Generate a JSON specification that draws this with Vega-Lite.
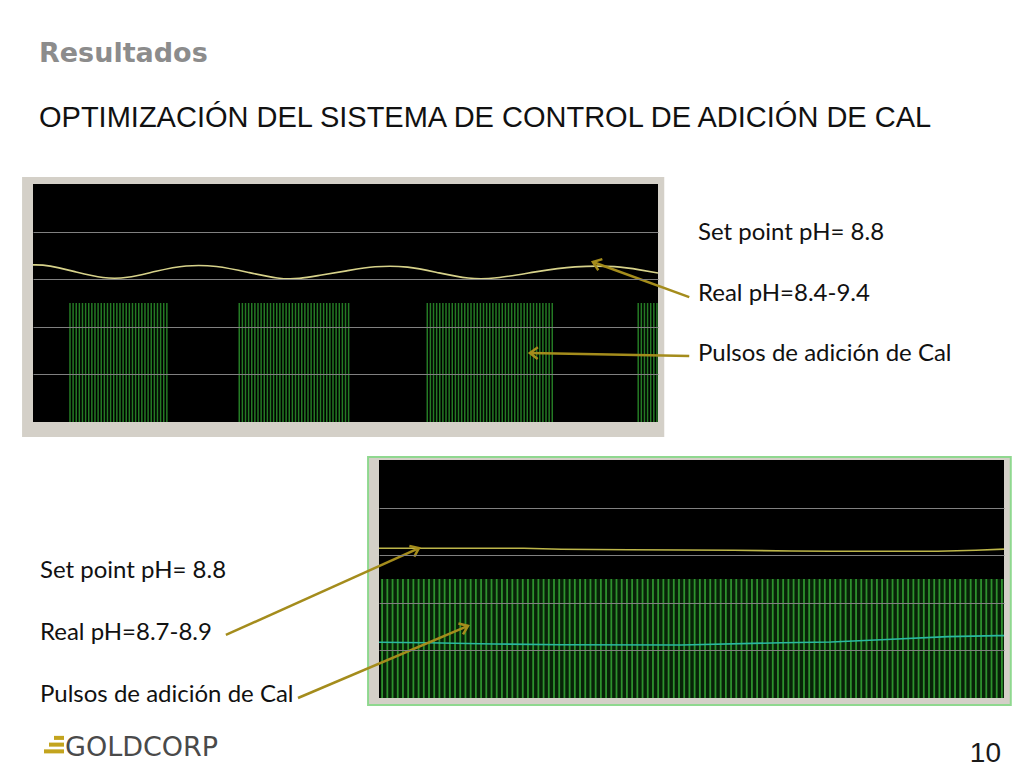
{
  "$schema": "https://vega.github.io/schema/vega-lite/v6.json",
  "background": "white",
  "padding": {"left": 22, "top": 40, "right": 0, "bottom": 0},
  "title": {
    "text": "Resultados",
    "subtitle": "OPTIMIZACIÓN DEL SISTEMA DE CONTROL DE ADICIÓN DE CAL",
    "anchor": "start",
    "frame": "group",
    "dx": 6,
    "offset": 43,
    "font": "DejaVu Sans",
    "fontSize": 27,
    "fontWeight": "bold",
    "color": "#8c8c8c",
    "subtitleFont": "Liberation Sans",
    "subtitleFontSize": 29,
    "subtitleColor": "#111111",
    "subtitlePadding": 36
  },
  "spacing": 18,
  "datasets": {
    "topPH": [
      {"t": 0, "ph": 9.24}, {"t": 2.9, "ph": 9.24}, {"t": 8.3, "ph": 8.82}, {"t": 13.6, "ph": 8.44},
      {"t": 17.9, "ph": 8.44}, {"t": 23.6, "ph": 8.88}, {"t": 29.4, "ph": 9.24}, {"t": 35.1, "ph": 9.21},
      {"t": 41.5, "ph": 8.79}, {"t": 47.2, "ph": 8.41}, {"t": 51.1, "ph": 8.41}, {"t": 55.3, "ph": 8.65},
      {"t": 60.1, "ph": 8.88}, {"t": 65.5, "ph": 9.18}, {"t": 72.0, "ph": 9.18}, {"t": 78.0, "ph": 8.76},
      {"t": 83.7, "ph": 8.41}, {"t": 88.5, "ph": 8.41}, {"t": 96.6, "ph": 8.85}, {"t": 103.9, "ph": 9.18},
      {"t": 112.3, "ph": 9.18}, {"t": 116.7, "ph": 8.94}, {"t": 120, "ph": 8.76}
    ],
    "topPulse": [
      {"t": 7.1}, {"t": 7.7}, {"t": 8.3}, {"t": 8.9}, {"t": 9.5}, {"t": 10.1}, {"t": 10.7}, {"t": 11.3},
      {"t": 11.9}, {"t": 12.5}, {"t": 13.1}, {"t": 13.7}, {"t": 14.3}, {"t": 14.9}, {"t": 15.5}, {"t": 16.1},
      {"t": 16.7}, {"t": 17.3}, {"t": 17.9}, {"t": 18.5}, {"t": 19.1}, {"t": 19.7}, {"t": 20.3}, {"t": 20.9},
      {"t": 21.5}, {"t": 22.1}, {"t": 22.7}, {"t": 23.3}, {"t": 23.9}, {"t": 24.5}, {"t": 25.1}, {"t": 25.7},
      {"t": 39.6}, {"t": 40.2}, {"t": 40.8}, {"t": 41.4}, {"t": 42.0}, {"t": 42.6}, {"t": 43.2}, {"t": 43.8},
      {"t": 44.4}, {"t": 45.0}, {"t": 45.6}, {"t": 46.2}, {"t": 46.8}, {"t": 47.4}, {"t": 48.0}, {"t": 48.6},
      {"t": 49.2}, {"t": 49.8}, {"t": 50.4}, {"t": 51.0}, {"t": 51.6}, {"t": 52.2}, {"t": 52.8}, {"t": 53.4},
      {"t": 54.0}, {"t": 54.6}, {"t": 55.2}, {"t": 55.8}, {"t": 56.4}, {"t": 57.0}, {"t": 57.6}, {"t": 58.2},
      {"t": 58.8}, {"t": 59.4}, {"t": 60.0}, {"t": 60.6},
      {"t": 75.7}, {"t": 76.3}, {"t": 76.9}, {"t": 77.5}, {"t": 78.1}, {"t": 78.7}, {"t": 79.3}, {"t": 79.9},
      {"t": 80.5}, {"t": 81.1}, {"t": 81.7}, {"t": 82.3}, {"t": 82.9}, {"t": 83.5}, {"t": 84.1}, {"t": 84.7},
      {"t": 85.3}, {"t": 85.9}, {"t": 86.5}, {"t": 87.1}, {"t": 87.7}, {"t": 88.3}, {"t": 88.9}, {"t": 89.5},
      {"t": 90.1}, {"t": 90.7}, {"t": 91.3}, {"t": 91.9}, {"t": 92.5}, {"t": 93.1}, {"t": 93.7}, {"t": 94.3},
      {"t": 94.9}, {"t": 95.5}, {"t": 96.1}, {"t": 96.7}, {"t": 97.3}, {"t": 97.9}, {"t": 98.5}, {"t": 99.1},
      {"t": 99.7},
      {"t": 116.2}, {"t": 116.8}, {"t": 117.4}, {"t": 118.0}, {"t": 118.6}, {"t": 119.2}, {"t": 119.8}
    ],
    "botPH": [
      {"t": 0, "ph": 8.81}, {"t": 27.8, "ph": 8.81}, {"t": 35.0, "ph": 8.75}, {"t": 48.0, "ph": 8.72},
      {"t": 68.2, "ph": 8.69}, {"t": 79.2, "ph": 8.65}, {"t": 86.8, "ph": 8.63}, {"t": 107.3, "ph": 8.63},
      {"t": 114.6, "ph": 8.69}, {"t": 120, "ph": 8.76}
    ],
    "botFlow": [
      {"t": 0, "v": 23.4}, {"t": 9.4, "v": 23.2}, {"t": 22.1, "v": 22.7}, {"t": 34.9, "v": 22.4},
      {"t": 58.0, "v": 22.3}, {"t": 77.2, "v": 23.2}, {"t": 86.8, "v": 23.5}, {"t": 96.4, "v": 24.5},
      {"t": 109.2, "v": 25.8}, {"t": 118.8, "v": 26.2}, {"t": 120, "v": 26.2}
    ],
    "botPulse": [
      {"t": 0.6}, {"t": 1.6}, {"t": 2.6}, {"t": 3.6}, {"t": 4.6}, {"t": 5.6}, {"t": 6.6}, {"t": 7.6}, {"t": 8.6}, {"t": 9.6},
      {"t": 10.6}, {"t": 11.6}, {"t": 12.6}, {"t": 13.6}, {"t": 14.6}, {"t": 15.6}, {"t": 16.6}, {"t": 17.6}, {"t": 18.6}, {"t": 19.6},
      {"t": 20.6}, {"t": 21.6}, {"t": 22.6}, {"t": 23.6}, {"t": 24.6}, {"t": 25.6}, {"t": 26.6}, {"t": 27.6}, {"t": 28.6}, {"t": 29.6},
      {"t": 30.6}, {"t": 31.6}, {"t": 32.6}, {"t": 33.6}, {"t": 34.6}, {"t": 35.6}, {"t": 36.6}, {"t": 37.6}, {"t": 38.6}, {"t": 39.6},
      {"t": 40.6}, {"t": 41.6}, {"t": 42.6}, {"t": 43.6}, {"t": 44.6}, {"t": 45.6}, {"t": 46.6}, {"t": 47.6}, {"t": 48.6}, {"t": 49.6},
      {"t": 50.6}, {"t": 51.6}, {"t": 52.6}, {"t": 53.6}, {"t": 54.6}, {"t": 55.6}, {"t": 56.6}, {"t": 57.6}, {"t": 58.6}, {"t": 59.6},
      {"t": 60.6}, {"t": 61.6}, {"t": 62.6}, {"t": 63.6}, {"t": 64.6}, {"t": 65.6}, {"t": 66.6}, {"t": 67.6}, {"t": 68.6}, {"t": 69.6},
      {"t": 70.6}, {"t": 71.6}, {"t": 72.6}, {"t": 73.6}, {"t": 74.6}, {"t": 75.6}, {"t": 76.6}, {"t": 77.6}, {"t": 78.6}, {"t": 79.6},
      {"t": 80.6}, {"t": 81.6}, {"t": 82.6}, {"t": 83.6}, {"t": 84.6}, {"t": 85.6}, {"t": 86.6}, {"t": 87.6}, {"t": 88.6}, {"t": 89.6},
      {"t": 90.6}, {"t": 91.6}, {"t": 92.6}, {"t": 93.6}, {"t": 94.6}, {"t": 95.6}, {"t": 96.6}, {"t": 97.6}, {"t": 98.6}, {"t": 99.6},
      {"t": 100.6}, {"t": 101.6}, {"t": 102.6}, {"t": 103.6}, {"t": 104.6}, {"t": 105.6}, {"t": 106.6}, {"t": 107.6}, {"t": 108.6}, {"t": 109.6},
      {"t": 110.6}, {"t": 111.6}, {"t": 112.6}, {"t": 113.6}, {"t": 114.6}, {"t": 115.6}, {"t": 116.6}, {"t": 117.6}, {"t": 118.6}, {"t": 119.6}
    ],
    "rightNotes": [
      {"row": 1, "label": "Set point pH= 8.8"},
      {"row": 2, "label": "Real pH=8.4-9.4"},
      {"row": 3, "label": "Pulsos de adición de Cal"}
    ],
    "leftNotes": [
      {"row": 1, "label": "Set point pH= 8.8"},
      {"row": 2, "label": "Real pH=8.7-8.9"},
      {"row": 3, "label": "Pulsos de adición de Cal"}
    ],
    "logoBars": [
      {"bar": 1, "len": 1},
      {"bar": 2, "len": 1.5},
      {"bar": 3, "len": 2}
    ]
  },
  "vconcat": [
    {
      "bounds": "flush",
      "spacing": 40,
      "hconcat": [
        {
          "width": 625,
          "height": 238,
          "resolve": {"scale": {"y": "independent"}},
          "layer": [
            {
              "data": {"values": [{}]},
              "mark": {"type": "rect", "color": "#d4d0c8"},
              "encoding": {
                "x": {"datum": -2.1, "type": "quantitative", "scale": {"domain": [0, 120], "nice": false, "zero": false}, "axis": null},
                "x2": {"datum": 121.2},
                "y": {"datum": -0.88, "type": "quantitative", "scale": {"domain": [0, 14], "nice": false, "zero": false}, "axis": null},
                "y2": {"datum": 14.41}
              }
            },
            {
              "data": {"values": [{}]},
              "mark": {"type": "rect", "color": "#000000"},
              "encoding": {
                "x": {
                  "datum": 0, "type": "quantitative",
                  "scale": {"domain": [0, 120], "nice": false, "zero": false},
                  "axis": {
                    "values": [0, 24, 48, 72, 96, 120],
                    "grid": true, "gridColor": "#808080", "gridWidth": 1,
                    "gridOpacity": {"condition": {"test": "datum.value == 0 || datum.value == 120", "value": 0}, "value": 1},
                    "domain": false, "ticks": false, "title": null,
                    "labelFont": "Liberation Sans", "labelFontSize": 5.5, "labelColor": "#222222",
                    "labelPadding": 1, "labelFlush": true, "labelOverlap": false,
                    "labelExpr": "timeFormat(time(datetime(2011,0,1,17,5,36)) + datum.value*60000, (datum.value == 0 || datum.value == 120) ? '%-I:%M:%S %p' : '%-I:%M:%S')",
                    "zindex": 1
                  }
                },
                "x2": {"datum": 120},
                "y": {
                  "datum": 0, "type": "quantitative",
                  "scale": {"domain": [0, 14], "nice": false, "zero": false},
                  "axis": {
                    "values": [2.8, 5.6, 8.4, 11.2],
                    "grid": true, "gridColor": "#808080", "gridWidth": 1,
                    "labels": false, "ticks": false, "domain": false, "title": null, "zindex": 1
                  }
                },
                "y2": {"datum": 14}
              }
            },
            {
              "data": {"name": "topPulse"},
              "mark": {"type": "rule", "color": "#247a24", "strokeWidth": 1.5},
              "encoding": {
                "x": {"field": "t", "type": "quantitative", "scale": {"domain": [0, 120], "nice": false, "zero": false}, "axis": null},
                "y": {"datum": 0, "type": "quantitative", "scale": {"domain": [0, 2], "nice": false, "zero": false}, "axis": null},
                "y2": {"datum": 1}
              }
            },
            {
              "data": {"name": "topPH"},
              "mark": {"type": "line", "color": "#d7d28a", "strokeWidth": 1.6, "interpolate": "basis"},
              "encoding": {
                "x": {"field": "t", "type": "quantitative", "scale": {"domain": [0, 120], "nice": false, "zero": false}, "axis": null},
                "y": {"field": "ph", "type": "quantitative", "scale": {"domain": [0, 14], "nice": false, "zero": false}, "axis": null}
              }
            },
            {
              "data": {"values": [{}]},
              "mark": {"type": "rule", "color": "#a48c1c", "strokeWidth": 2.5},
              "encoding": {
                "x": {"datum": 126.0, "type": "quantitative", "scale": {"domain": [0, 120], "nice": false, "zero": false}, "axis": null},
                "x2": {"datum": 107.5},
                "y": {"datum": 7.35, "type": "quantitative", "scale": {"domain": [0, 14], "nice": false, "zero": false}, "axis": null},
                "y2": {"datum": 9.41}
              }
            },
            {
              "data": {"values": [{}]},
              "mark": {"type": "point", "shape": "M 1 -0.75 L 0 0 L 1 0.75", "filled": false, "stroke": "#a48c1c", "strokeWidth": 2.5, "size": 250, "angle": 20, "opacity": 1},
              "encoding": {
                "x": {"datum": 107.5, "type": "quantitative", "scale": {"domain": [0, 120], "nice": false, "zero": false}, "axis": null},
                "y": {"datum": 9.41, "type": "quantitative", "scale": {"domain": [0, 14], "nice": false, "zero": false}, "axis": null}
              }
            },
            {
              "data": {"values": [{}]},
              "mark": {"type": "rule", "color": "#a48c1c", "strokeWidth": 2.5},
              "encoding": {
                "x": {"datum": 126.0, "type": "quantitative", "scale": {"domain": [0, 120], "nice": false, "zero": false}, "axis": null},
                "x2": {"datum": 95.4},
                "y": {"datum": 3.88, "type": "quantitative", "scale": {"domain": [0, 14], "nice": false, "zero": false}, "axis": null},
                "y2": {"datum": 4.06}
              }
            },
            {
              "data": {"values": [{}]},
              "mark": {"type": "point", "shape": "M 1 -0.75 L 0 0 L 1 0.75", "filled": false, "stroke": "#a48c1c", "strokeWidth": 2.5, "size": 250, "angle": 1, "opacity": 1},
              "encoding": {
                "x": {"datum": 95.4, "type": "quantitative", "scale": {"domain": [0, 120], "nice": false, "zero": false}, "axis": null},
                "y": {"datum": 4.06, "type": "quantitative", "scale": {"domain": [0, 14], "nice": false, "zero": false}, "axis": null}
              }
            }
          ]
        },
        {
          "width": 300,
          "height": 238,
          "data": {"name": "rightNotes"},
          "mark": {"type": "text", "align": "left", "baseline": "alphabetic", "font": "Lato", "fontSize": 24, "color": "#111111"},
          "encoding": {
            "x": {"datum": 0, "type": "quantitative", "scale": {"domain": [0, 1], "nice": false}, "axis": null},
            "y": {"field": "row", "type": "quantitative", "scale": {"domain": [0.074, 4.008], "reverse": true, "nice": false, "zero": false}, "axis": null},
            "text": {"field": "label"}
          }
        }
      ]
    },
    {
      "bounds": "flush",
      "spacing": 40,
      "hconcat": [
        {
          "width": 306,
          "height": 238,
          "data": {"name": "leftNotes"},
          "mark": {"type": "text", "align": "left", "baseline": "alphabetic", "font": "Lato", "fontSize": 24, "color": "#111111", "dx": 7},
          "encoding": {
            "x": {"datum": 0, "type": "quantitative", "scale": {"domain": [0, 1], "nice": false}, "axis": null},
            "y": {"field": "row", "type": "quantitative", "scale": {"domain": [-0.903, 2.936], "reverse": true, "nice": false, "zero": false}, "axis": null},
            "text": {"field": "label"}
          }
        },
        {
          "width": 625,
          "height": 238,
          "resolve": {"scale": {"y": "independent"}},
          "layer": [
            {
              "data": {"values": [{}]},
              "mark": {"type": "rect", "color": "#d4d0c8", "stroke": "#8fd88f", "strokeWidth": 2},
              "encoding": {
                "x": {"datum": -2.1, "type": "quantitative", "scale": {"domain": [0, 120], "nice": false, "zero": false}, "axis": null},
                "x2": {"datum": 121.3},
                "y": {"datum": -0.41, "type": "quantitative", "scale": {"domain": [0, 14], "nice": false, "zero": false}, "axis": null},
                "y2": {"datum": 14.18}
              }
            },
            {
              "data": {"values": [{}]},
              "mark": {"type": "rect", "color": "#000000"},
              "encoding": {
                "x": {
                  "datum": 0, "type": "quantitative",
                  "scale": {"domain": [0, 120], "nice": false, "zero": false},
                  "axis": {
                    "values": [0, 24, 48, 72, 96, 120],
                    "grid": true, "gridColor": "#808080", "gridWidth": 1,
                    "gridOpacity": {"condition": {"test": "datum.value == 0 || datum.value == 120", "value": 0}, "value": 1},
                    "domain": false, "ticks": false, "title": null,
                    "labelFont": "Liberation Sans", "labelFontSize": 5.5, "labelColor": "#222222",
                    "labelPadding": 1, "labelFlush": true, "labelOverlap": false,
                    "labelExpr": "timeFormat(time(datetime(2011,0,1,19,9,36)) + datum.value*60000, (datum.value == 0 || datum.value == 120) ? '%-I:%M:%S %p' : '%-I:%M:%S')",
                    "zindex": 1
                  }
                },
                "x2": {"datum": 120},
                "y": {
                  "datum": 0, "type": "quantitative",
                  "scale": {"domain": [0, 14], "nice": false, "zero": false},
                  "axis": {
                    "values": [2.8, 5.6, 8.4, 11.2],
                    "grid": true, "gridColor": "#808080", "gridWidth": 1,
                    "labels": false, "ticks": false, "domain": false, "title": null, "zindex": 1
                  }
                },
                "y2": {"datum": 14}
              }
            },
            {
              "data": {"values": [{}]},
              "mark": {"type": "rect", "color": "#082208"},
              "encoding": {
                "x": {"datum": 0.3, "type": "quantitative", "scale": {"domain": [0, 120], "nice": false, "zero": false}, "axis": null},
                "x2": {"datum": 120},
                "y": {"datum": 0, "type": "quantitative", "scale": {"domain": [0, 2], "nice": false, "zero": false}, "axis": null},
                "y2": {"datum": 1}
              }
            },
            {
              "data": {"name": "botPulse"},
              "mark": {"type": "rule", "color": "#2e922e", "strokeWidth": 1.8},
              "encoding": {
                "x": {"field": "t", "type": "quantitative", "scale": {"domain": [0, 120], "nice": false, "zero": false}, "axis": null},
                "y": {"datum": 0, "type": "quantitative", "scale": {"domain": [0, 2], "nice": false, "zero": false}, "axis": null},
                "y2": {"datum": 1}
              }
            },
            {
              "data": {"name": "botPH"},
              "mark": {"type": "line", "color": "#bdb64a", "strokeWidth": 1.6},
              "encoding": {
                "x": {"field": "t", "type": "quantitative", "scale": {"domain": [0, 120], "nice": false, "zero": false}, "axis": null},
                "y": {"field": "ph", "type": "quantitative", "scale": {"domain": [0, 14], "nice": false, "zero": false}, "axis": null}
              }
            },
            {
              "data": {"name": "botFlow"},
              "mark": {"type": "line", "color": "#2ab8a0", "strokeWidth": 1.6},
              "encoding": {
                "x": {"field": "t", "type": "quantitative", "scale": {"domain": [0, 120], "nice": false, "zero": false}, "axis": null},
                "y": {"field": "v", "type": "quantitative", "scale": {"domain": [0, 100], "nice": false, "zero": false}, "axis": null}
              }
            },
            {
              "data": {"values": [{}]},
              "mark": {"type": "rule", "color": "#a48c1c", "strokeWidth": 2.5},
              "encoding": {
                "x": {"datum": -29.4, "type": "quantitative", "scale": {"domain": [0, 120], "nice": false, "zero": false}, "axis": null},
                "x2": {"datum": 7.68},
                "y": {"datum": 3.71, "type": "quantitative", "scale": {"domain": [0, 14], "nice": false, "zero": false}, "axis": null},
                "y2": {"datum": 8.82}
              }
            },
            {
              "data": {"values": [{}]},
              "mark": {"type": "point", "shape": "M 1 -0.75 L 0 0 L 1 0.75", "filled": false, "stroke": "#a48c1c", "strokeWidth": 2.5, "size": 250, "angle": 155.7, "opacity": 1},
              "encoding": {
                "x": {"datum": 7.68, "type": "quantitative", "scale": {"domain": [0, 120], "nice": false, "zero": false}, "axis": null},
                "y": {"datum": 8.82, "type": "quantitative", "scale": {"domain": [0, 14], "nice": false, "zero": false}, "axis": null}
              }
            },
            {
              "data": {"values": [{}]},
              "mark": {"type": "rule", "color": "#a48c1c", "strokeWidth": 2.5},
              "encoding": {
                "x": {"datum": -15.55, "type": "quantitative", "scale": {"domain": [0, 120], "nice": false, "zero": false}, "axis": null},
                "x2": {"datum": 17.09},
                "y": {"datum": 0, "type": "quantitative", "scale": {"domain": [0, 14], "nice": false, "zero": false}, "axis": null},
                "y2": {"datum": 4.24}
              }
            },
            {
              "data": {"values": [{}]},
              "mark": {"type": "point", "shape": "M 1 -0.75 L 0 0 L 1 0.75", "filled": false, "stroke": "#a48c1c", "strokeWidth": 2.5, "size": 250, "angle": 157, "opacity": 1},
              "encoding": {
                "x": {"datum": 17.09, "type": "quantitative", "scale": {"domain": [0, 120], "nice": false, "zero": false}, "axis": null},
                "y": {"datum": 4.24, "type": "quantitative", "scale": {"domain": [0, 14], "nice": false, "zero": false}, "axis": null}
              }
            }
          ]
        }
      ]
    },
    {
      "bounds": "flush",
      "spacing": 40,
      "hconcat": [
        {
          "width": 31,
          "height": 31,
          "resolve": {"scale": {"y": "independent"}},
          "layer": [
            {
              "data": {"name": "logoBars"},
              "mark": {"type": "bar", "color": "#c3a41e"},
              "encoding": {
                "y": {"field": "bar", "type": "ordinal", "scale": {"paddingInner": 0.4, "paddingOuter": 1.8, "align": 0.806}, "axis": null},
                "x": {"field": "len", "type": "quantitative", "scale": {"domain": [0, 3.1], "reverse": true, "nice": false}, "axis": null}
              }
            },
            {
              "data": {"values": [{"name": "GOLDCORP"}]},
              "mark": {"type": "text", "align": "left", "baseline": "alphabetic", "font": "DejaVu Sans", "fontSize": 27, "color": "#4a4a4a", "dx": 1},
              "encoding": {
                "x": {"datum": 0, "type": "quantitative", "scale": {"domain": [0, 3.1], "reverse": true, "nice": false}, "axis": null},
                "y": {"datum": 0, "type": "quantitative", "scale": {"domain": [0, 1], "nice": false, "zero": false}, "axis": null},
                "text": {"field": "name"}
              }
            }
          ]
        },
        {
          "width": 897,
          "height": 37,
          "data": {"values": [{"page": "10"}]},
          "mark": {"type": "text", "align": "right", "baseline": "alphabetic", "font": "Liberation Sans", "fontSize": 28, "color": "#1a1a1a"},
          "encoding": {
            "x": {"datum": 1, "type": "quantitative", "scale": {"domain": [0, 1], "nice": false}, "axis": null},
            "y": {"datum": 0, "type": "quantitative", "scale": {"domain": [0, 1], "nice": false, "zero": false}, "axis": null},
            "text": {"field": "page"}
          }
        }
      ]
    }
  ],
  "config": {
    "view": {"stroke": null},
    "axis": {"labelFont": "Liberation Sans"}
  }
}
